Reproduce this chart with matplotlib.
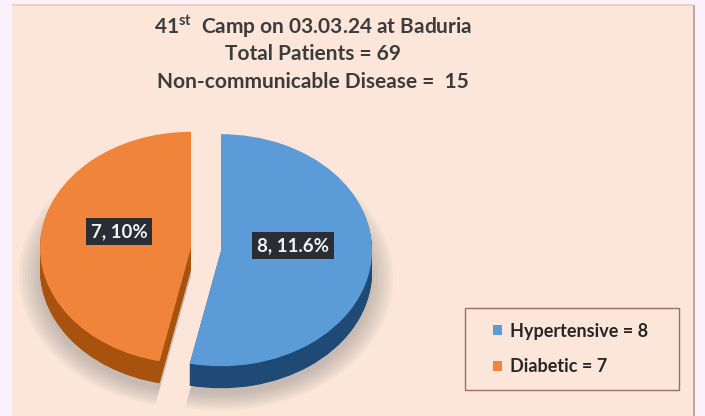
import numpy as np
import matplotlib.pyplot as plt
from matplotlib.patches import Rectangle

# Data
categories = ["Hypertensive", "Diabetic"]
values = [8, 7]
slice_labels = ["8, 11.6%", "7, 10%"]
total_patients = 69
ncd_total = 15
title_lines = [r"41$^{\mathrm{st}}$  Camp on 03.03.24 at Baduria",
               f"Total Patients = {total_patients}",
               f"Non-communicable Disease =  {ncd_total}"]

# Styling
top_colors = ["#5A9BD8", "#F0843A"]
side_colors = ["#204A76", "#A8520F"]
explode = [0.1, 0.1]
depth = 0.19

plt.rcParams['mathtext.fontset'] = 'custom'
plt.rcParams['mathtext.rm'] = 'Lato:bold'

fig = plt.figure(figsize=(7.05, 4.16), dpi=100, facecolor="#FBF1FB")

# peach panel with thin border
fig.patches.append(Rectangle((12 / 705, 0), 681 / 705, 1 - 5 / 416, transform=fig.transFigure,
                             facecolor="#FCE6D9", edgecolor="none", zorder=-3))
fig.patches.append(Rectangle((693 / 705, 0), 2 / 705, 1 - 5 / 416, transform=fig.transFigure,
                             facecolor="#B9A9A6", edgecolor="none", zorder=-3))
fig.patches.append(Rectangle((12 / 705, 1 - 6 / 416), 681 / 705, 1.5 / 416, transform=fig.transFigure,
                             facecolor="#EAD2C6", edgecolor="none", zorder=-3))

ax = fig.add_axes([9.7 / 705, 16.2 / 416, 392.6 / 705, 301.6 / 416])
ax.patch.set_alpha(0)

# soft shadow
for r in np.linspace(1.14, 1.0, 8):
    ax.pie(values, radius=r, explode=explode, startangle=90, counterclock=False,
           center=(0, -depth - 0.05), colors=["#7A7A7A"] * 2,
           wedgeprops=dict(linewidth=0, alpha=0.06))

# side of the 3D pie
for off in np.linspace(depth, 0.01, 20):
    ax.pie(values, explode=explode, startangle=90, counterclock=False,
           center=(0, -off), colors=side_colors, wedgeprops=dict(linewidth=0))

# top face
wedges, texts, autotexts = ax.pie(values, explode=explode, startangle=90, counterclock=False,
                                  colors=top_colors, autopct="%d", pctdistance=0.48,
                                  wedgeprops=dict(linewidth=0))
for t, lab in zip(autotexts, slice_labels):
    x, y = t.get_position()
    t.set_position((x, y + 0.09))
    t.set_text(lab)
    t.set_color("#F2F2F2")
    t.set_fontfamily("Lato")
    t.set_fontweight("bold")
    t.set_fontsize(13.5)
    t.set_bbox(dict(facecolor="#2A2D33", edgecolor="none", boxstyle="square,pad=0.25"))

ax.set_aspect('auto')
ax.set_xlim(-1.3, 1.3)
ax.set_ylim(-1.3, 1.3)

# title
for i, line in enumerate(title_lines):
    fig.text(313 / 705, 1 - (27 + 27.5 * i) / 416, line, ha="center", va="center",
             fontfamily="Lato", fontweight="bold", fontsize=15, color="#3C3C3C")

# legend
fig.patches.append(Rectangle((465 / 705, 26 / 416), 214 / 705, 82 / 416, transform=fig.transFigure,
                             facecolor="none", edgecolor="#9A6E66", linewidth=1.0, zorder=2))
leg_labels = [f"{c} = {v}" for c, v in zip(categories, values)]
fig.legend(wedges, leg_labels, loc="center left", bbox_to_anchor=(477 / 705, 67 / 416),
           frameon=False, handlelength=0.5, handleheight=0.5, handletextpad=0.45,
           labelspacing=1.05, prop=dict(family="Lato", weight="bold", size=13),
           labelcolor="#262626")

plt.savefig("out.png", dpi=100, facecolor=fig.get_facecolor())
